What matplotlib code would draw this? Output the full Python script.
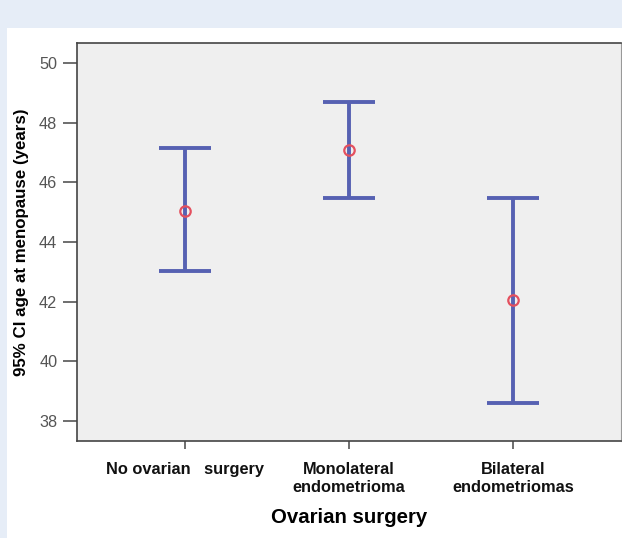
import matplotlib.pyplot as plt
from matplotlib.patches import Rectangle

plt.rcParams['font.family'] = ['Liberation Sans', 'DejaVu Sans']

# Data
groups = ["No ovarian   surgery", "Monolateral\nendometrioma", "Bilateral\nendometriomas"]
means = [45.05, 47.07, 42.06]
ci_low = [43.02, 45.46, 38.62]
ci_high = [47.15, 48.68, 45.48]
yticks = [38, 40, 42, 44, 46, 48, 50]

fig = plt.figure(figsize=(6.22, 5.38), dpi=100)
fig.patch.set_facecolor('#e6edf7')
# white panel under the chart, leaving the light blue band at top and left
bg = Rectangle((7 / 622, 0), 1, (538 - 28) / 538, transform=fig.transFigure,
               facecolor='white', edgecolor='none', zorder=-10)
fig.add_artist(bg)

ax = fig.add_axes([76.7 / 622, (538 - 440.7) / 538, 544.3 / 622, 397.4 / 538])
ax.set_zorder(1)
ax.set_facecolor('#efefef')

x = list(range(len(groups)))
err_lo = [m - l for m, l in zip(means, ci_low)]
err_hi = [h - m for m, h in zip(means, ci_high)]
ax.errorbar(x, means, yerr=[err_lo, err_hi], fmt='none', ecolor='#5661b2',
            elinewidth=2.8, capsize=19, capthick=2.8, zorder=2)
ax.plot(x, means, 'o', markersize=7.5, markerfacecolor='none',
        markeredgecolor='#e4505e', markeredgewidth=1.6, zorder=3)

ax.set_xlim(-0.66, 2.66)
ax.set_ylim(37.34, 50.66)
ax.set_yticks(yticks)
ax.set_xticks(x)
ax.set_xticklabels(groups, fontweight='bold', fontsize=11.8, color='#111111', linespacing=1.3)
ax.tick_params(axis='y', labelsize=11.7, labelcolor='#555555', length=10, width=1.2, color='#555555', pad=4)
ax.tick_params(axis='x', length=6, width=1.2, color='#555555', pad=9)

for side in ['top', 'left', 'bottom']:
    ax.spines[side].set_color('#444444')
    ax.spines[side].set_linewidth(1.2)
ax.spines['right'].set_color('#999999')

ax.set_xlabel('Ovarian surgery', fontweight='bold', fontsize=14.7, labelpad=9)
ax.set_ylabel('95% CI age at menopause (years)', fontweight='bold', fontsize=12.2, labelpad=7)

fig.savefig('out.png', dpi=100, facecolor=fig.get_facecolor())
